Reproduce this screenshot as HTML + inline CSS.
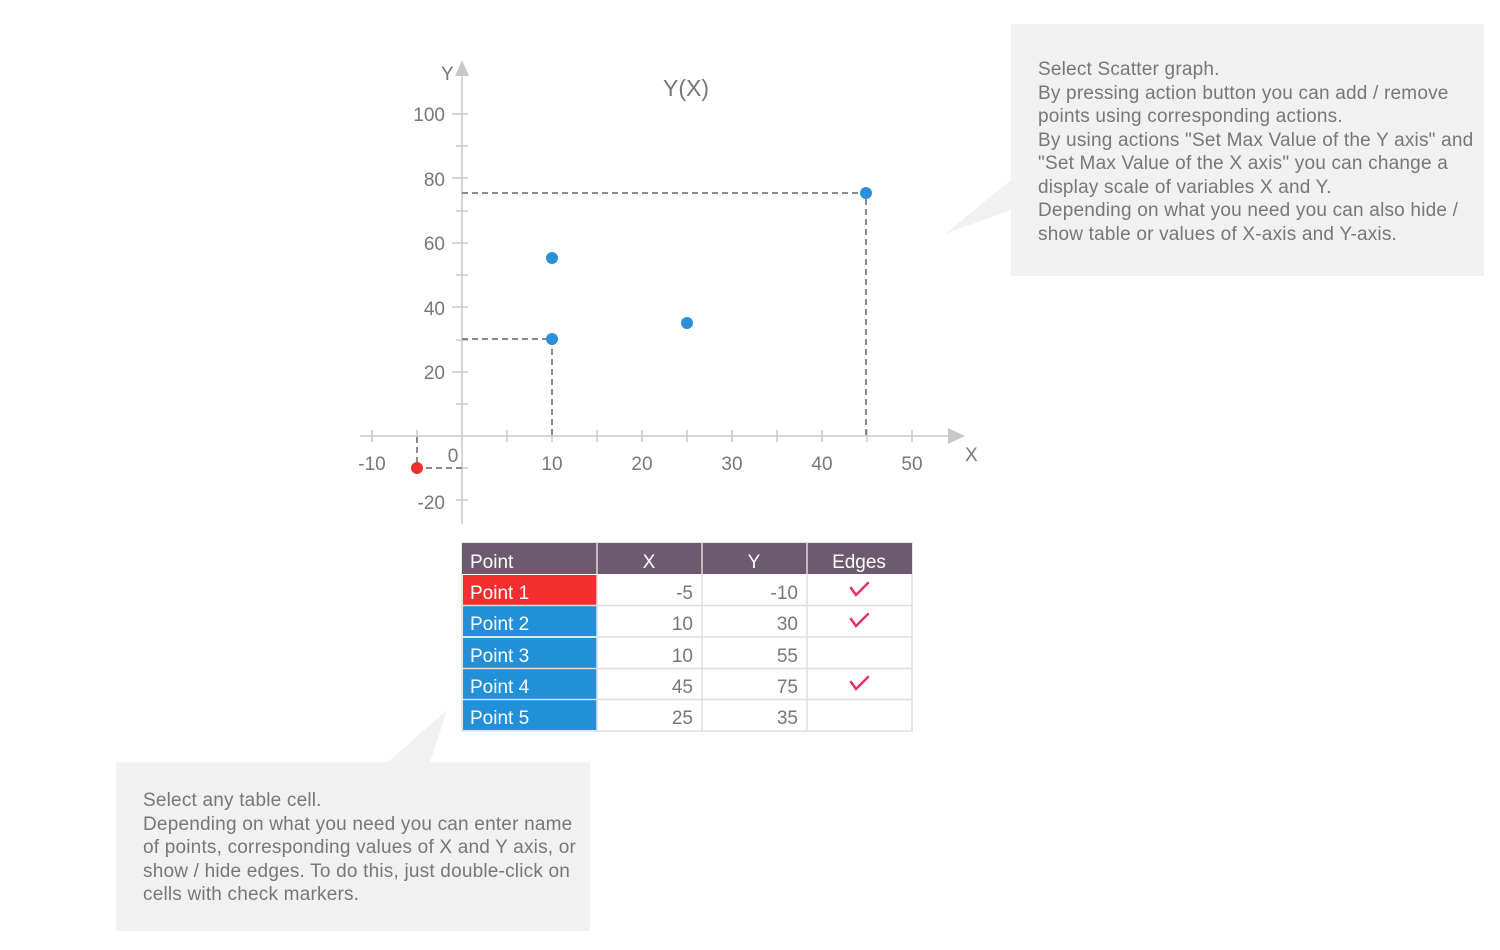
<!DOCTYPE html>
<html><head><style>
body{margin:0;width:1500px;height:950px;background:#fff;font-family:"Liberation Sans","DejaVu Sans",sans-serif;position:relative;overflow:hidden}
.note{position:absolute;color:#777;font-size:19px;line-height:23.5px;white-space:pre;letter-spacing:0.2px}
</style></head><body>
<svg width="1500" height="950" style="position:absolute;left:0;top:0">
<polygon points="1011,180 945,234 1011,210" fill="#f1f1f1"/>
<rect x="1011" y="24" width="473" height="252" fill="#f1f1f1"/>
<polygon points="388,762 447,710 430,762" fill="#f1f1f1"/>
<rect x="116" y="762" width="474" height="169" fill="#f1f1f1"/>
<g stroke="#c8c8c8" stroke-width="1.5">
<line x1="360" y1="436" x2="955" y2="436"/>
<line x1="462" y1="524" x2="462" y2="70"/>
</g>
<polygon points="965,436 948,428 948,444" fill="#c8c8c8"/>
<polygon points="462,60 455,76 469,76" fill="#c8c8c8"/>
<g stroke="#c8c8c8" stroke-width="1.5">
<line x1="372" y1="430" x2="372" y2="442"/><line x1="417" y1="430" x2="417" y2="442"/>
<line x1="507" y1="430" x2="507" y2="442"/><line x1="552" y1="430" x2="552" y2="442"/>
<line x1="597" y1="430" x2="597" y2="442"/><line x1="642" y1="430" x2="642" y2="442"/>
<line x1="687" y1="430" x2="687" y2="442"/><line x1="732" y1="430" x2="732" y2="442"/>
<line x1="777" y1="430" x2="777" y2="442"/><line x1="822" y1="430" x2="822" y2="442"/>
<line x1="867" y1="430" x2="867" y2="442"/><line x1="912" y1="430" x2="912" y2="442"/>
<line x1="456" y1="500" x2="468" y2="500"/><line x1="456" y1="468" x2="468" y2="468"/>
<line x1="456" y1="404" x2="468" y2="404"/><line x1="452" y1="372" x2="468" y2="372"/>
<line x1="456" y1="340" x2="468" y2="340"/><line x1="452" y1="307" x2="468" y2="307"/>
<line x1="456" y1="275" x2="468" y2="275"/><line x1="452" y1="243" x2="468" y2="243"/>
<line x1="456" y1="211" x2="468" y2="211"/><line x1="452" y1="178" x2="468" y2="178"/>
<line x1="456" y1="146" x2="468" y2="146"/><line x1="452" y1="114" x2="468" y2="114"/>
</g>
<g stroke="#666" stroke-width="1.5" stroke-dasharray="6,4" fill="none">
<polyline points="462,193 866,193 866,436"/>
<polyline points="462,339 552,339 552,436"/>
<polyline points="462,468 417,468 417,436"/>
</g>
<g fill="#777" font-size="19" font-family="Liberation Sans,sans-serif">
<text x="372" y="470" text-anchor="middle">-10</text>
<text x="552" y="470" text-anchor="middle">10</text>
<text x="642" y="470" text-anchor="middle">20</text>
<text x="732" y="470" text-anchor="middle">30</text>
<text x="822" y="470" text-anchor="middle">40</text>
<text x="912" y="470" text-anchor="middle">50</text>
<text x="453" y="462" text-anchor="middle">0</text>
<text x="445" y="121" text-anchor="end">100</text>
<text x="445" y="186" text-anchor="end">80</text>
<text x="445" y="250" text-anchor="end">60</text>
<text x="445" y="315" text-anchor="end">40</text>
<text x="445" y="379" text-anchor="end">20</text>
<text x="445" y="509" text-anchor="end">-20</text>
<text x="965" y="461">X</text>
<text x="441" y="80">Y</text>
<text x="686" y="96" text-anchor="middle" font-size="23">Y(X)</text>
</g>
<circle cx="417" cy="468" r="6" fill="#f03030"/>
<circle cx="552" cy="339" r="6" fill="#2990d9"/>
<circle cx="552" cy="258" r="6" fill="#2990d9"/>
<circle cx="866" cy="193" r="6" fill="#2990d9"/>
<circle cx="687" cy="323" r="6" fill="#2990d9"/>
<rect x="462" y="543" width="450" height="188" fill="#fff" stroke="#ddd" stroke-width="1.5"/>
<rect x="462" y="543" width="450" height="31" fill="#6e5a6e"/>
<rect x="463" y="575" width="134" height="30" fill="#f3302f"/>
<rect x="463" y="606" width="134" height="30" fill="#228fd9"/>
<rect x="463" y="638" width="134" height="30" fill="#228fd9"/>
<rect x="463" y="669" width="134" height="30" fill="#228fd9"/>
<rect x="463" y="700" width="134" height="30" fill="#228fd9"/>
<g stroke="#ddd" stroke-width="1.5">
<line x1="597" y1="543" x2="597" y2="731"/><line x1="702" y1="543" x2="702" y2="731"/><line x1="807" y1="543" x2="807" y2="731"/>
<line x1="462" y1="605.5" x2="912" y2="605.5"/><line x1="462" y1="637" x2="912" y2="637"/>
<line x1="462" y1="668.5" x2="912" y2="668.5"/><line x1="462" y1="699.5" x2="912" y2="699.5"/>
</g>
<g font-size="19" font-family="Liberation Sans,sans-serif">
<g fill="#fff">
<text x="470" y="568">Point</text><text x="649" y="568" text-anchor="middle">X</text>
<text x="754" y="568" text-anchor="middle">Y</text><text x="859" y="568" text-anchor="middle">Edges</text>
<text x="470" y="599">Point 1</text><text x="470" y="630">Point 2</text><text x="470" y="662">Point 3</text>
<text x="470" y="693">Point 4</text><text x="470" y="724">Point 5</text>
</g>
<g fill="#777" text-anchor="end">
<text x="693" y="599">-5</text><text x="798" y="599">-10</text>
<text x="693" y="630">10</text><text x="798" y="630">30</text>
<text x="693" y="662">10</text><text x="798" y="662">55</text>
<text x="693" y="693">45</text><text x="798" y="693">75</text>
<text x="693" y="724">25</text><text x="798" y="724">35</text>
</g>
</g>
<g fill="none" stroke="#ee3060" stroke-width="2.5" stroke-linecap="round">
<path d="M851,588 l5,7 l12,-12"/><path d="M851,619 l5,7 l12,-12"/><path d="M851,682 l5,7 l12,-12"/>
</g>
</svg>
<div class="note" style="left:1038px;top:58px">Select Scatter graph.
By pressing action button you can add / remove
points using corresponding actions.
By using actions "Set Max Value of the Y axis" and
"Set Max Value of the X axis" you can change a
display scale of variables X and Y.
Depending on what you need you can also hide /
show table or values of X-axis and Y-axis.</div>
<div class="note" style="left:143px;top:789px">Select any table cell.
Depending on what you need you can enter name
of points, corresponding values of X and Y axis, or
show / hide edges. To do this, just double-click on
cells with check markers.</div>
</body></html>
